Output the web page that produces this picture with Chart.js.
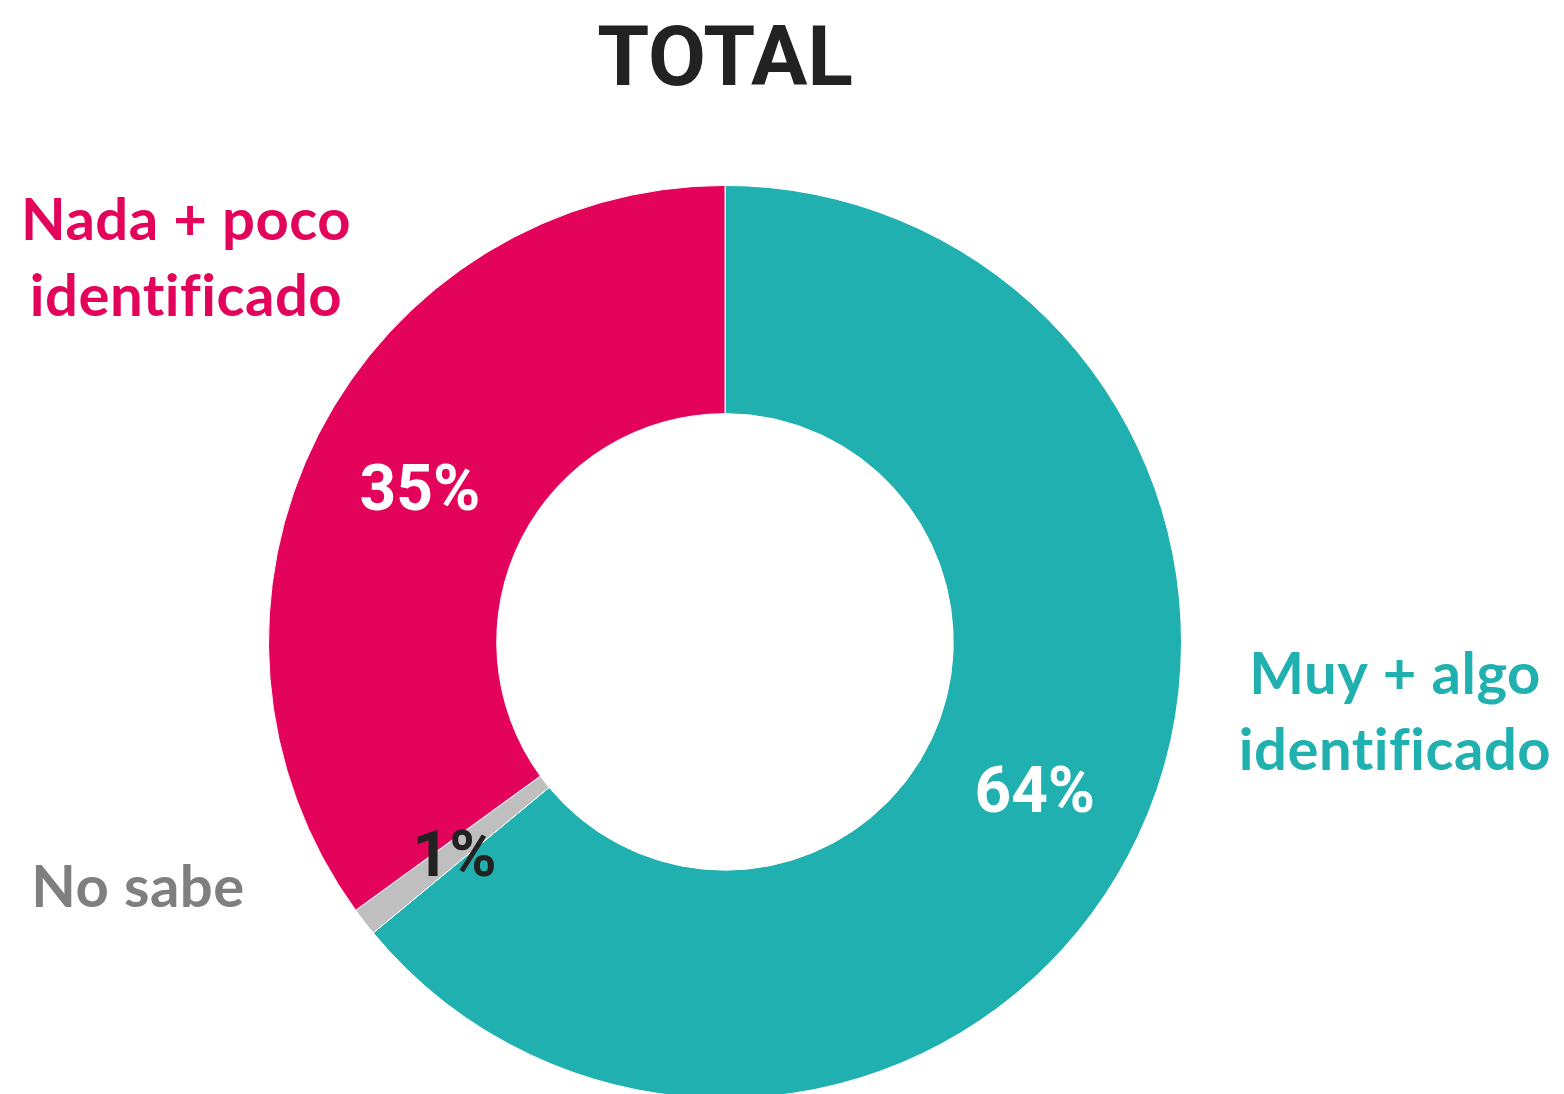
<!DOCTYPE html>
<html>
<head>
<meta charset="utf-8">
<script src="https://cdn.jsdelivr.net/npm/chart.js@4/dist/chart.umd.min.js"></script>
<style>
  html, body { margin: 0; padding: 0; background: #fff; overflow: hidden; }
  canvas { position: absolute; left: 0; top: 0; }
</style>
</head>
<body>
<canvas id="totalChart" width="1564" height="1100"></canvas>
<script>
// datos del grafico
var categorias = ['Muy + algo identificado', 'No sabe', 'Nada + poco identificado'];
var valores = [64, 1, 35];
var etiquetasPct = ['64%', '1%', '35%'];
var colores = ['#1FB0AF', '#BFBFBF', '#E4035A'];
var coloresPct = ['#FFFFFF', '#222222', '#FFFFFF'];

// etiquetas de categoria fuera del anillo
var etiquetasCat = [
  { lineas: ['Muy + algo', 'identificado'], color: '#1FB0AF', dx: 670, dy: 52 },
  { lineas: ['No sabe'], color: '#7F7F7F', dx: -587, dy: 265 },
  { lineas: ['Nada + poco', 'identificado'], color: '#E4035A', dx: -539, dy: -402 }
];

var pluginTextos = {
  id: 'textos',
  afterDatasetsDraw: function(chart) {
    var ctx = chart.ctx;
    var meta = chart.getDatasetMeta(0);
    var arc0 = meta.data[0];
    var cx = arc0.x, cy = arc0.y;
    ctx.save();
    ctx.textAlign = 'center';
    ctx.textBaseline = 'middle';
    // porcentajes dentro de cada porcion
    meta.data.forEach(function(arc, i) {
      var p = arc.tooltipPosition();
      ctx.font = 'bold 64px Roboto';
      ctx.fillStyle = coloresPct[i];
      ctx.fillText(etiquetasPct[i], p.x, p.y + 8);
    });
    // nombres de categoria (con letterSpacing para evitar ligaduras fi / ti)
    ctx.textBaseline = 'alphabetic';
    ctx.font = 'bold 58px Lato';
    ctx.letterSpacing = '0.5px';
    etiquetasCat.forEach(function(e) {
      ctx.fillStyle = e.color;
      e.lineas.forEach(function(l, j) {
        ctx.fillText(l, cx + e.dx, cy + e.dy + j * 76);
      });
    });
    ctx.restore();
  }
};

var ctx = document.getElementById('totalChart').getContext('2d');
var chart = new Chart(ctx, {
  type: 'doughnut',
  data: {
    labels: categorias,
    datasets: [{
      data: valores,
      backgroundColor: colores,
      borderColor: '#ffffff',
      borderWidth: 1
    }]
  },
  options: {
    responsive: false,
    animation: false,
    cutout: '50%',
    layout: { padding: { left: 268, right: 382, top: 0, bottom: 1 } },
    plugins: {
      legend: { display: false },
      tooltip: { enabled: false },
      title: {
        display: true,
        text: 'TOTAL',
        color: '#222222',
        font: { family: 'Roboto', size: 84, weight: 'bold', lineHeight: 1.2 },
        padding: { top: 14, bottom: 70 }
      }
    }
  },
  plugins: [pluginTextos]
});
</script>
</body>
</html>
